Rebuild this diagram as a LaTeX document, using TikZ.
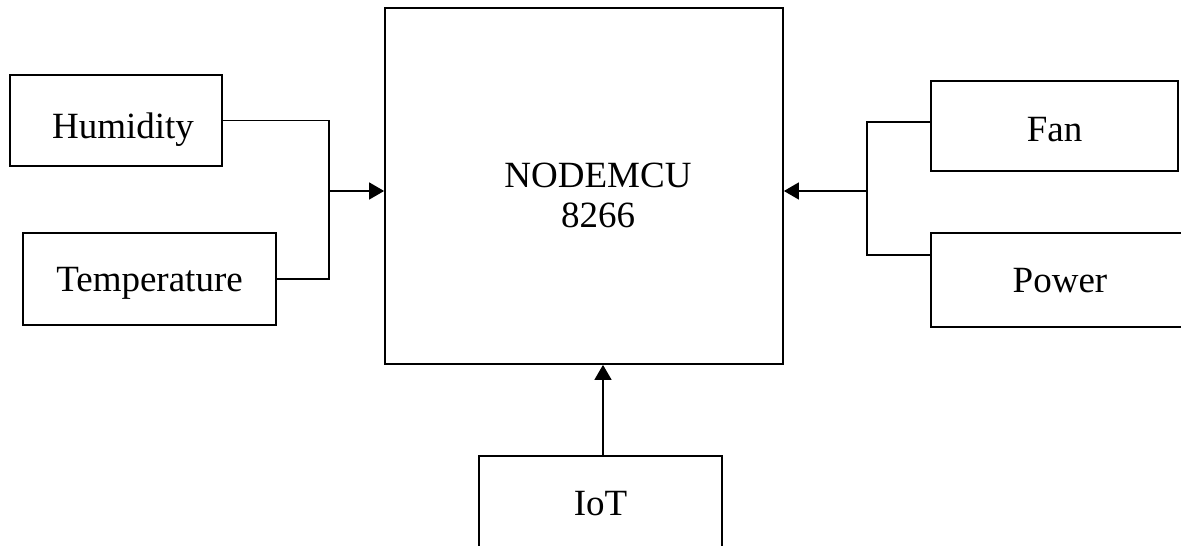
\documentclass[tikz,border=0pt]{standalone}
\usepackage{fontspec}
\setmainfont{Liberation Serif}
\usetikzlibrary{arrows.meta, positioning}
\tikzset{
    blockbox/.style={draw, line width=1.8pt, rectangle, inner sep=0pt, font=\fontsize{37}{40}\selectfont, text height=24.5pt, text depth=0pt},
    wire/.style={line width=1.6pt},
    feed/.style={wire, -{Triangle[length=15pt,width=17pt]}}
}

\begin{document}
\begin{tikzpicture}[x=1pt, y=1pt]
            \useasboundingbox (0,0) rectangle (1181,546);
            % Controller
            \node[draw, line width=1.8pt, minimum width=398, minimum height=356] (mcu) at (584, 360) {};
            \node[font=\fontsize{37}{40}\selectfont, align=center, inner sep=0pt] (mcutext) at (598, 351) {NODEMCU\\8266};
            
            % Sensors
            \node[blockbox, minimum width=212, minimum height=91, text height=36.5pt] (hum) at (116, 425.5) {\hspace*{14pt}Humidity};
            \node[blockbox, minimum width=253, minimum height=92] (temp) at (149.5, 267) {Temperature};
            
            % Outputs
            \node[blockbox, minimum width=247, minimum height=90, text height=31.5pt] (fan) at (1054.5, 420) {Fan};
            \node[blockbox, minimum width=258, minimum height=94] (power) at (1060, 266) {Power};
            
            % Cloud
            \node[blockbox, minimum width=243, minimum height=94] (iot) at (600.5, 43) {IoT};
            
            % Left side
            \coordinate (jl) at (329, 355);
            \draw[wire] (hum.east) -| (jl);
            \draw[wire] (temp.east) -| (jl);
            \draw[feed] (jl) -- (jl -| mcu.west);
            
            % Right side
            \coordinate (jr) at (867, 355);
            \draw[wire] ([yshift=4pt]fan.west) -| (jr);
            \draw[wire] ([yshift=25pt]power.west) -| (jr);
            \draw[feed] (jr) -- (jr -| mcu.east);
            
            % Bottom
            \draw[feed] ([xshift=2.5pt]iot.north) -- ([xshift=2.5pt]iot.north |- mcu.south);
        \end{tikzpicture}
\end{document}
